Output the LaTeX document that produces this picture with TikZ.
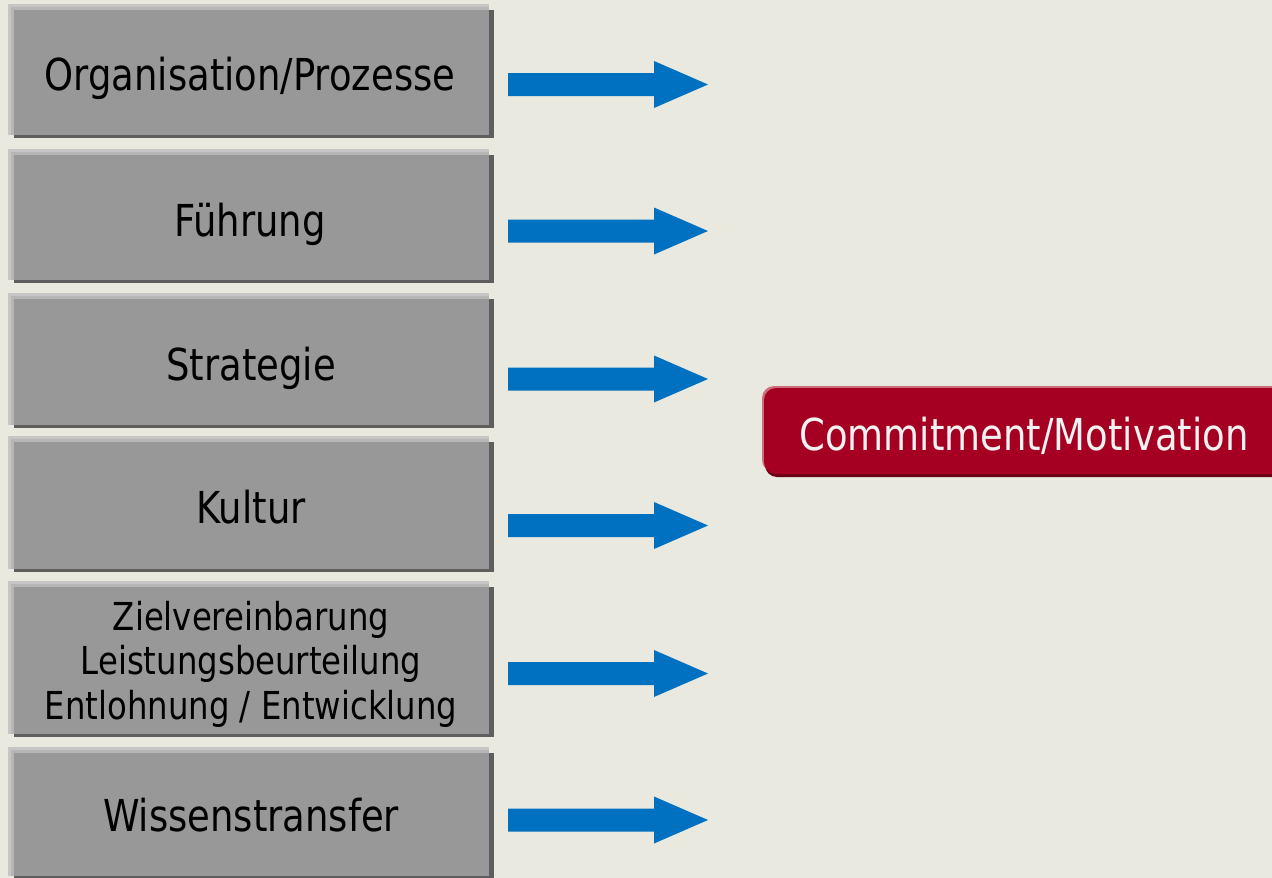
\documentclass[tikz,border=0pt]{standalone}
\usepackage{fontspec}
\setmainfont{DejaVu Sans}[FakeStretch=0.84]
\usetikzlibrary{shadows,backgrounds}
\definecolor{bgc}{RGB}{233,233,223}
\definecolor{boxfill}{RGB}{152,152,152}
\definecolor{lightedge}{RGB}{198,198,198}
\definecolor{lightedgein}{RGB}{182,182,182}
\definecolor{darkedge}{RGB}{94,94,94}
\definecolor{arrowblue}{RGB}{0,112,192}
\definecolor{redfill}{RGB}{165,0,33}
\definecolor{redlight}{RGB}{205,110,125}
\definecolor{reddark}{RGB}{105,0,20}
\definecolor{redtext}{RGB}{242,242,242}
\begin{document}
\begin{tikzpicture}[x=1pt,y=-1pt,
  gbox/.style={rectangle, fill=boxfill, inner sep=0, minimum width=475pt},
  lbl/.style={anchor=base, inner sep=0, text=black, font=\fontsize{44}{53}\selectfont},
  slbl/.style={anchor=base, inner sep=0, text=black, font=\fontsize{38.5}{45}\selectfont},
  rbox/.style={rectangle, rounded corners=12pt, fill=redfill, inner sep=0,
    general shadow={fill=reddark, shadow xshift=1pt, shadow yshift=-3pt},
    general shadow={fill=redlight, shadow xshift=-2pt, shadow yshift=2pt}},
  rlbl/.style={anchor=base, inner sep=0, text=redtext, font=\fontsize{44}{53}\selectfont},
  barrow/.pic={\fill[arrowblue] (0,-11.5) -- (146,-11.5) -- (146,-23.5) -- (200,0)
     -- (146,23.5) -- (146,11.5) -- (0,11.5) -- cycle;}
]
\useasboundingbox (0,0) rectangle (1272,878);
\clip (0,0) rectangle (1272,878);

% grey boxes (fill regions)
\node[gbox, minimum height=125pt] (b1) at (251.5,72.5) {};
\node[gbox, minimum height=125pt] (b2) at (251.5,217.5) {};
\node[gbox, minimum height=126pt] (b3) at (251.5,362) {};
\node[gbox, minimum height=127pt] (b4) at (251.5,505.5) {};
\node[gbox, minimum height=147pt] (b5) at (251.5,660.5) {};
\node[gbox, minimum height=123pt] (b6) at (251.5,814.5) {};

% bevel edges behind the boxes
\begin{scope}[on background layer]
  \fill[bgc] (0,0) rectangle (1272,878);
  \foreach \b in {b1,b2,b3,b4,b5,b6} {
    \fill[lightedge] ([xshift=-6pt,yshift=6pt]\b.north west) rectangle (\b.south east);
    \fill[lightedgein] ([xshift=-3pt,yshift=3pt]\b.north west) rectangle (\b.south east);
    \fill[darkedge] (\b.north west) rectangle ([xshift=5pt,yshift=-3pt]\b.south east);
  }
\end{scope}

% labels
\node[lbl] (t1) at (250,90.5) {Organisation/Prozesse};
\node[lbl] (t2) at (250,236.5) {Führung};
\node[lbl] (t3) at (251,380) {Strategie};
\node[lbl] (t4) at (251,523.5) {Kultur};
\node[slbl] (t5a) at (251,630) {Zielvereinbarung};
\node[slbl] (t5b) at (251,674.5) {Leistungsbeurteilung};
\node[slbl] (t5c) at (251,719) {Entlohnung / Entwicklung};
\node[lbl] (t6) at (251,831.5) {Wissenstransfer};

% arrows
\pic at (508,84.5) {barrow};
\pic at (508,231) {barrow};
\pic at (508,379) {barrow};
\pic at (508,525.5) {barrow};
\pic at (508,673.5) {barrow};
\pic at (508,820) {barrow};

% red box
\node[rbox, minimum width=540pt, minimum height=86pt] (cm) at (1034,431) {};
\node[rlbl] (t7) at (1024,450) {Commitment/Motivation};
\end{tikzpicture}
\end{document}
